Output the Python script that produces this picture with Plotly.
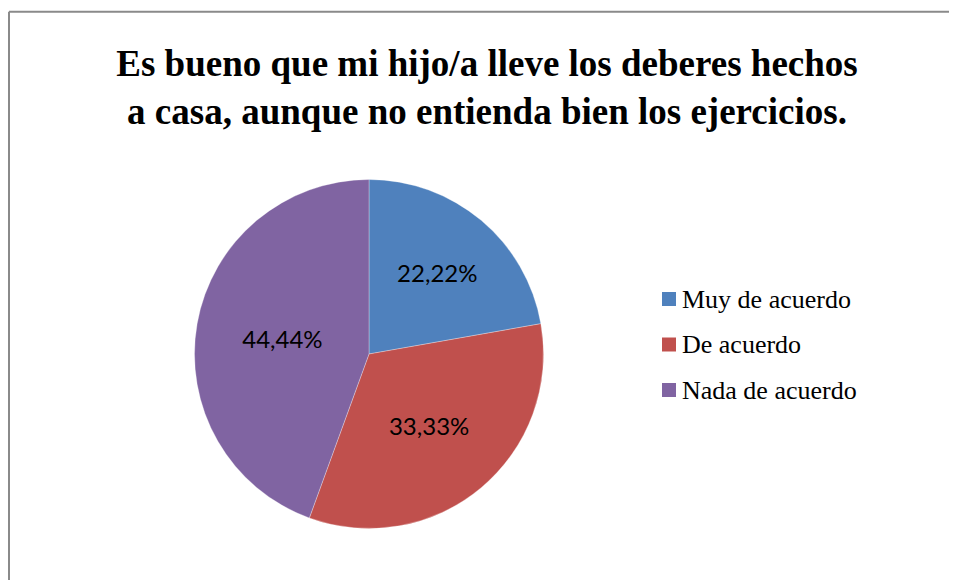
import plotly.graph_objects as go

categories = ["Muy de acuerdo", "De acuerdo", "Nada de acuerdo"]
values = [22.22, 33.33, 44.44]
colors = ["#4F81BD", "#C0504D", "#8064A2"]
title_text = "Es bueno que mi hijo/a lleve los deberes hechos<br>a casa, aunque no entienda bien los ejercicios."

# the page adds an 8px body margin, so the figure is 8px smaller than the window
W, H = 949, 572
OFF = 8

def px(x):
    return (x - OFF) / W

def py(y):
    return 1 - (y - OFF) / H

cx, cy, r = 369, 354, 174.5

fig = go.Figure(go.Pie(
    labels=categories,
    values=values,
    sort=False,
    direction="clockwise",
    rotation=0,
    marker=dict(colors=colors, line=dict(color="rgba(255,255,255,0.6)", width=0.5)),
    texttemplate="%{value:.2f}%",
    textposition="inside",
    insidetextorientation="horizontal",
    textfont=dict(family="Lato", size=24, color="#000000"),
    domain=dict(x=[px(cx - r), px(cx + r)], y=[py(cy + r), py(cy - r)]),
    showlegend=False,
    hoverinfo="label+percent",
))

shapes = [
    dict(type="line", xref="paper", yref="paper", x0=px(9), x1=1, y0=py(11.8), y1=py(11.8),
         line=dict(color="#8a8a8a", width=2)),
    dict(type="line", xref="paper", yref="paper", x0=px(9), x1=px(9), y0=0, y1=py(11.8),
         line=dict(color="#8a8a8a", width=2)),
]
annotations = []
legend_x, legend_y0, legend_dy, sq = 662, 299, 45.5, 14
for i, (cat, col) in enumerate(zip(categories, colors)):
    yc = legend_y0 + i * legend_dy
    shapes.append(dict(type="rect", xref="paper", yref="paper",
                       x0=px(legend_x), x1=px(legend_x + sq), y0=py(yc + sq / 2), y1=py(yc - sq / 2),
                       fillcolor=col, line=dict(width=0)))
    annotations.append(dict(xref="paper", yref="paper", x=px(legend_x + sq + 4), y=py(yc),
                            xanchor="left", yanchor="middle", showarrow=False, text=cat,
                            font=dict(family="Liberation Serif", size=26, color="#000000")))

fig.update_layout(
    width=W, height=H,
    margin=dict(l=0, r=0, t=0, b=0),
    paper_bgcolor="#ffffff",
    plot_bgcolor="#ffffff",
    separators=",.",
    title=dict(text=title_text, x=px(487), xanchor="center", y=py(76), yanchor="top",
               font=dict(family="Liberation Serif", size=37, color="#000000", weight="bold")),
    shapes=shapes,
    annotations=annotations,
)

fig.write_html("out.html")
